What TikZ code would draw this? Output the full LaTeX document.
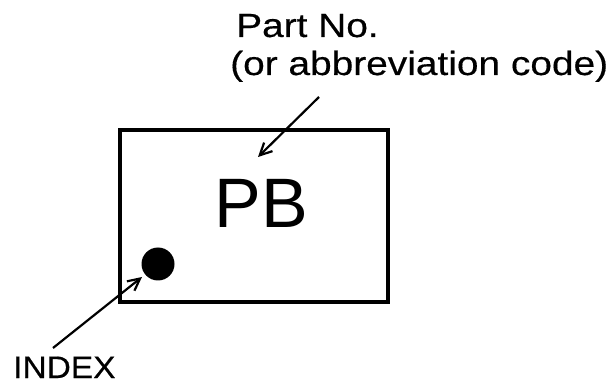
\documentclass[tikz,border=0pt]{standalone}
\usepackage{fontspec}
\setmainfont{Liberation Sans}
\newfontfamily\widesans[FakeStretch=1.16,FakeBold=0.4]{Liberation Sans}
\newfontfamily\idxsans[FakeStretch=1.08,FakeBold=0.4]{Liberation Sans}
\usetikzlibrary{arrows.meta}
\begin{document}
\begin{tikzpicture}[x=1pt,y=-1pt,
  lbl/.style={inner sep=0pt, anchor=base west},
  ptr/.style={line width=2.2pt, -{Straight Barb[length=12pt,width=12pt,line width=2.2pt]}},
  box/.style={draw, line width=4pt, minimum width=268pt, minimum height=172pt, inner sep=0pt}]
\useasboundingbox (0,0) rectangle (613,387);
\node[box] (pb) at (254,216) {};
\node[inner sep=0pt, font=\fontsize{70}{80}\selectfont, anchor=base] (pbtxt) at (261,228) {PB};
\node[circle, fill=black, minimum size=33pt, inner sep=0pt] (dot) at (158,264) {};
\node[lbl, font=\widesans\fontsize{33.5}{40}\selectfont] (partno) at (236,37) {Part No.};
\node[lbl, font=\widesans\fontsize{33.5}{40}\selectfont] (abbr) at (230,75) {(or abbreviation code)};
\node[lbl, font=\idxsans\fontsize{31}{38}\selectfont] (index) at (13,378) {INDEX};
\coordinate (s1) at (319,97);
\coordinate (t1) at (258,157);
\coordinate (s2) at (53,348);
\coordinate (t2) at (142,277);
\draw[ptr] (s1) -- (t1);
\draw[ptr] (s2) -- (t2);
\end{tikzpicture}
\end{document}
